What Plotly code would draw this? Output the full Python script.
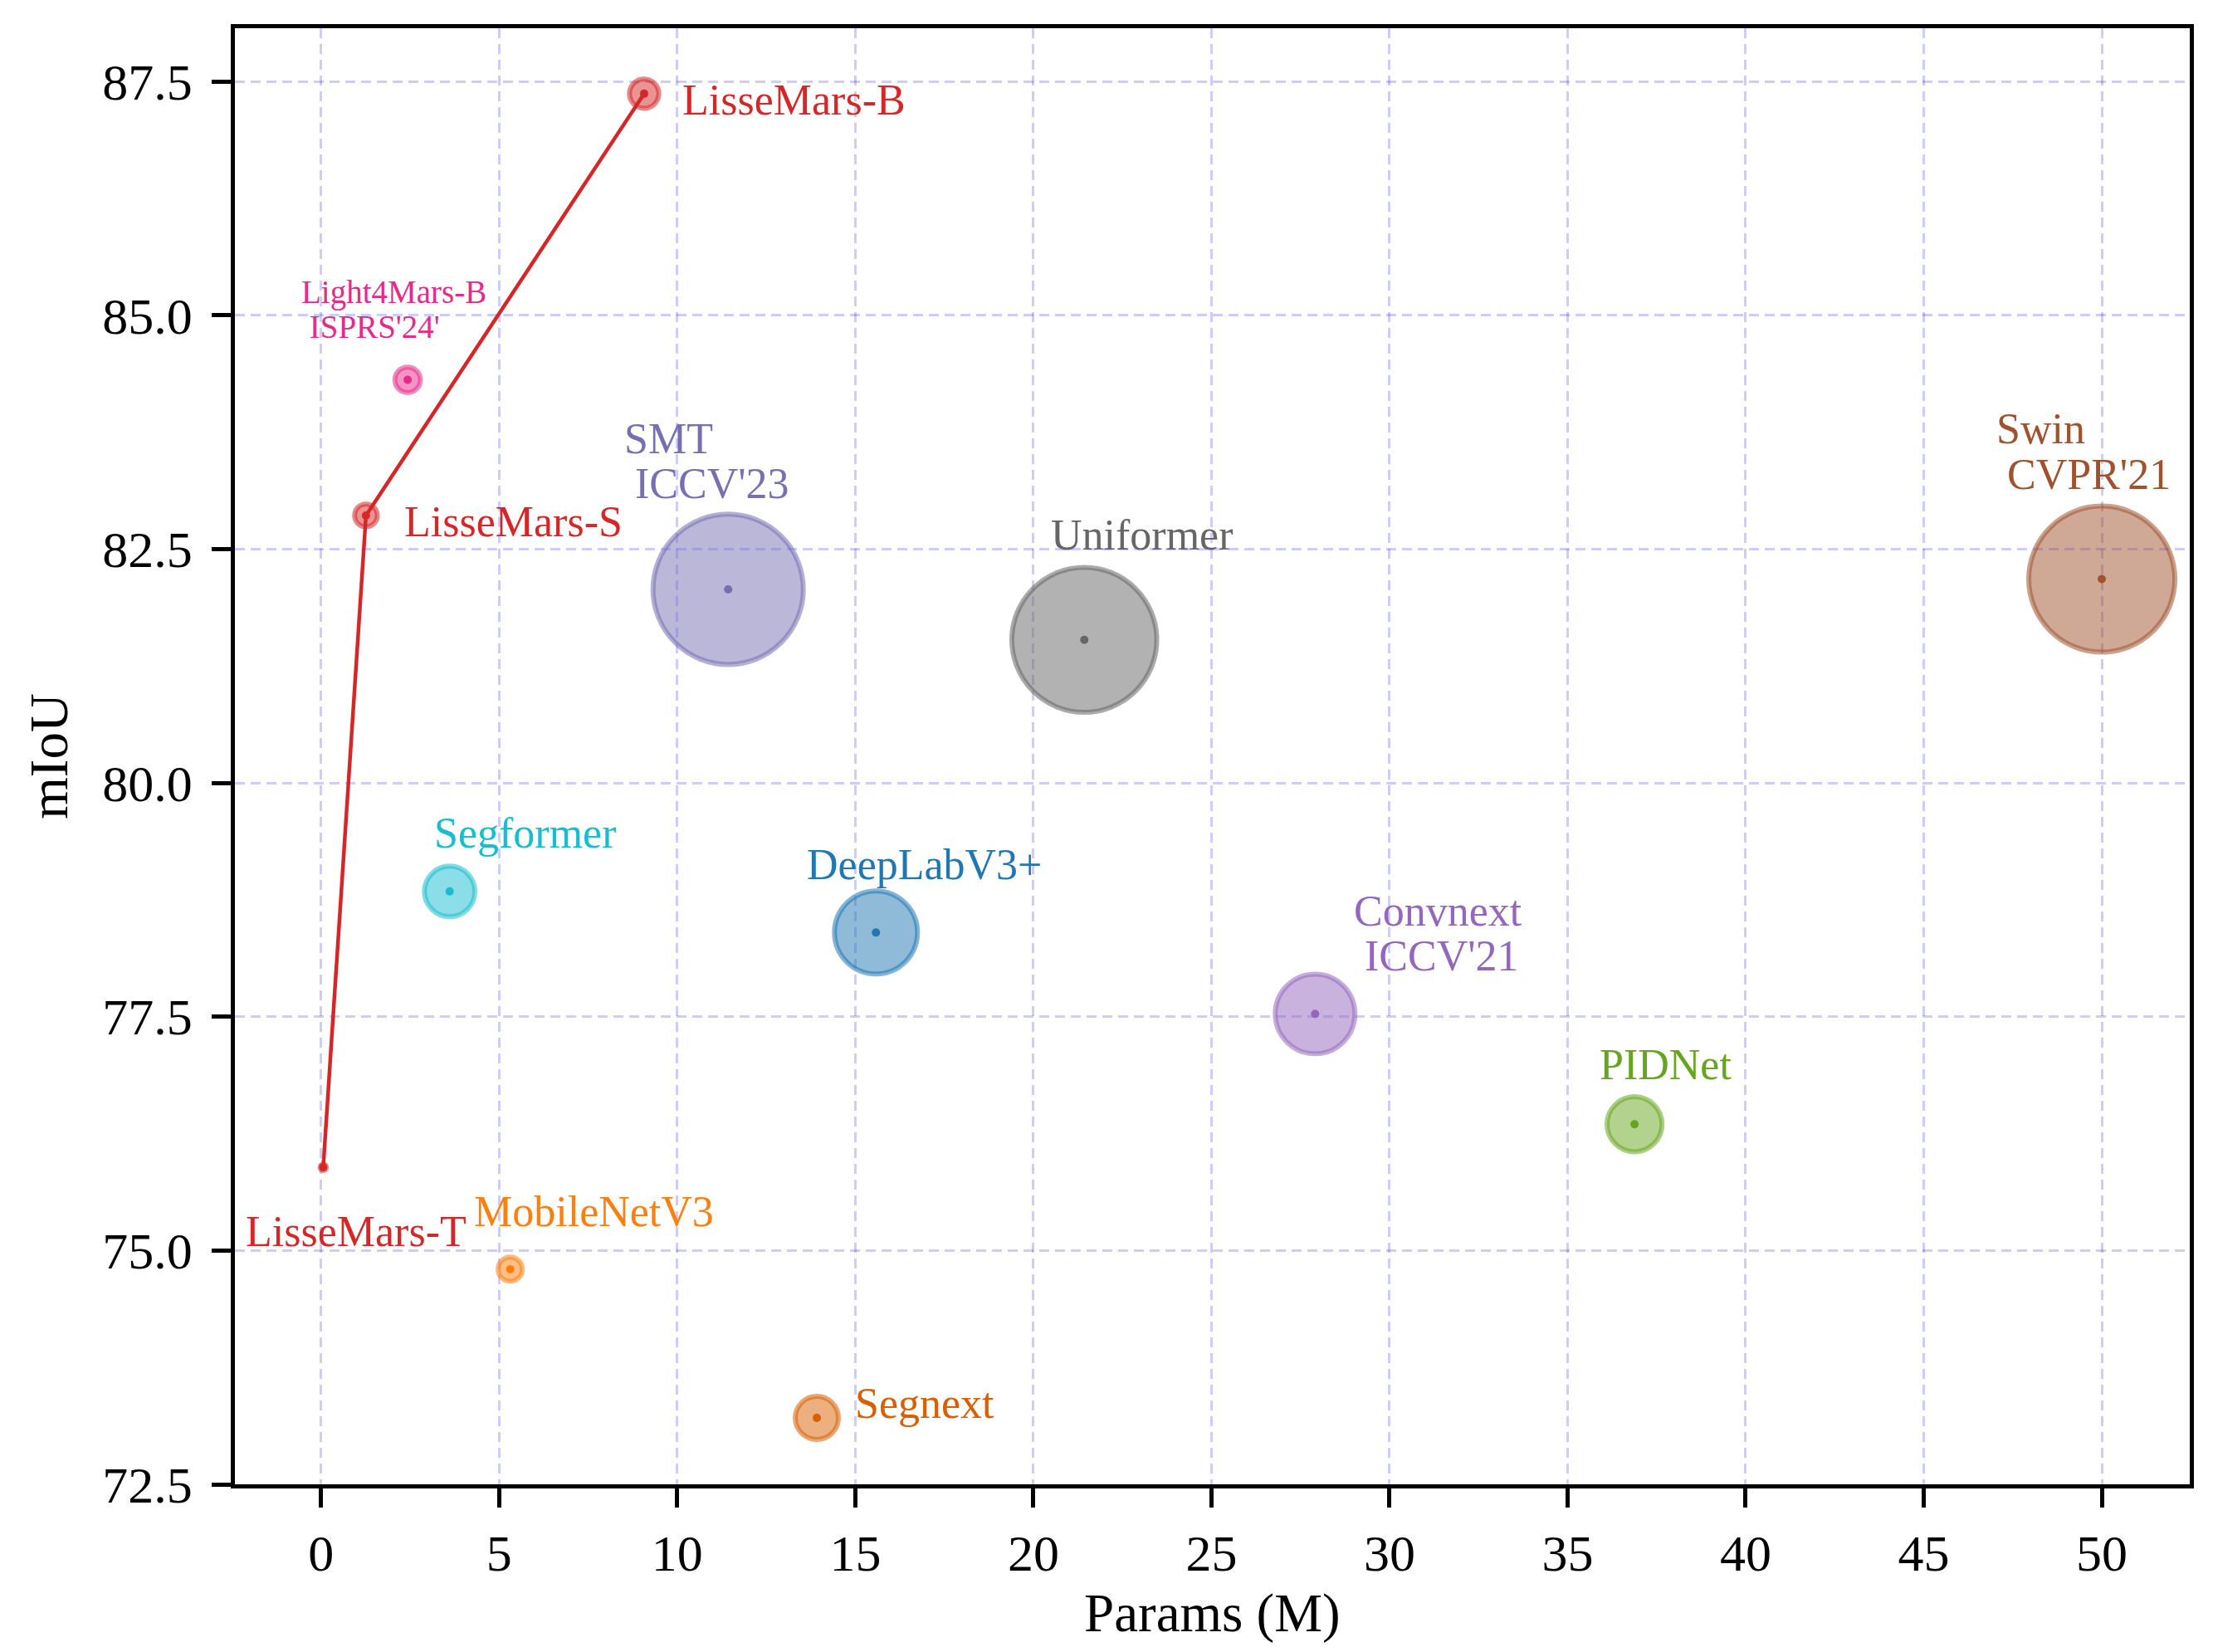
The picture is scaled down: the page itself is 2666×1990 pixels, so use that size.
import plotly.graph_objects as go

# model, params (M), mIoU, bubble value (area-like)
models = [
    "LisseMars-T", "LisseMars-S", "LisseMars-B", "Light4Mars-B", "SMT",
    "Uniformer", "Swin", "Segformer", "DeepLabV3+", "Convnext",
    "PIDNet", "MobileNetV3", "Segnext",
]
params = [0.06, 1.26, 9.07, 2.43, 11.43, 21.43, 50.0, 3.61, 15.58, 27.91, 36.88, 5.31, 13.92]
miou = [75.89, 82.86, 87.37, 84.31, 82.07, 81.53, 82.18, 78.84, 78.40, 77.53, 76.35, 74.80, 73.21]
bubble = [0.6, 7.5, 12.5, 9.5, 328, 305, 310, 37, 100, 92, 44, 8.5, 27]

labels = [
    ["LisseMars-T"], ["LisseMars-S"], ["LisseMars-B"], ["Light4Mars-B", "\u00a0ISPRS'24'"],
    ["SMT", "\u00a0ICCV'23"], ["Uniformer"], ["Swin", "\u00a0CVPR'21"], ["Segformer"],
    ["DeepLabV3+"], ["Convnext", "\u00a0ICCV'21"], ["PIDNet"], ["MobileNetV3"], ["Segnext"],
]

x_ticks = list(range(0, 55, 5))
y_ticks = [72.5, 75.0, 77.5, 80.0, 82.5, 85.0, 87.5]

# styling
colors = [
    "#d62728", "#d62728", "#d62728", "#e7298a", "#7570b3",
    "#666666", "#a0522d", "#17becf", "#1f77b4", "#9467bd",
    "#66a61e", "#ff7f0e", "#d95f02",
]
# left edge / first-line centre of each label, in data units
label_xy = [
    (-2.12, 75.23), (2.33, 82.82), (10.14, 87.33), (-0.56, 85.27), (8.51, 83.71),
    (20.48, 82.68), (47.04, 83.81), (3.17, 79.49), (13.64, 79.15), (28.99, 78.66),
    (35.89, 77.01), (4.29, 75.44), (15.0, 73.39),
]
FONT = "Liberation Serif, Times New Roman, serif"


def rgba(hex_color, a):
    h = hex_color.lstrip("#")
    r, g, b = int(h[0:2], 16), int(h[2:4], 16), int(h[4:6], 16)
    return f"rgba({r},{g},{b},{a})"


fig = go.Figure()

# LisseMars curve
fig.add_trace(go.Scatter(
    x=params[:3], y=miou[:3], mode="lines",
    line=dict(color="#d62728", width=4.5), hoverinfo="skip", showlegend=False,
))

fig.add_trace(go.Scatter(
    x=params, y=miou, mode="markers", text=models, showlegend=False,
    marker=dict(
        size=bubble, sizemode="area", sizeref=0.02, opacity=1,
        color=[rgba(c, 0.5) for c in colors],
        line=dict(color=[rgba(c, 0.55) for c in colors], width=6),
    ),
))

fig.add_trace(go.Scatter(
    x=params, y=miou, mode="markers", hoverinfo="skip", showlegend=False,
    marker=dict(size=10, color=colors, opacity=1, line=dict(width=0)),
))

for name, lines, (lx, ly), c in zip(models, labels, label_xy, colors):
    fs = 39 if name == "Light4Mars-B" else 52
    for k, line in enumerate(lines):
        fig.add_annotation(
            x=lx, y=ly, xref="x", yref="y", text=line, showarrow=False,
            xanchor="left", yanchor="middle", xshift=-2, yshift=-3 - k * 1.05 * fs,
            font=dict(family=FONT, size=fs, color=c),
        )

# x axis title as annotation to control its exact placement
fig.add_annotation(
    x=0.5, y=0, xref="paper", yref="paper", text="Params (M)", showarrow=False,
    xanchor="center", yanchor="middle", yshift=-155,
    font=dict(family=FONT, size=65, color="black"),
)

axis_common = dict(
    showline=True, mirror=True, linecolor="black", linewidth=4.5,
    ticks="outside", ticklen=23, tickwidth=4.5, tickcolor="black",
    showgrid=True, gridcolor="rgba(0,0,255,0.2)", gridwidth=2.5, griddash="12px,7px",
    zeroline=False, automargin=False, tickfont=dict(family=FONT, size=62, color="black"),
)

fig.update_xaxes(
    range=[-2.42, 52.47], tickvals=x_ticks, ticklabelstandoff=2,
    **axis_common,
)
fig.update_yaxes(
    range=[72.5, 88.07], tickvals=y_ticks, tickformat=".1f", ticklabelstandoff=11,
    title=dict(text="mIoU", font=dict(family=FONT, size=65, color="black"), standoff=22),
    **axis_common,
)

fig.update_layout(
    width=2650, height=1974,
    margin=dict(l=275, r=20, t=26, b=194),
    paper_bgcolor="white", plot_bgcolor="white",
    font=dict(family=FONT),
)

fig.write_html("out.html")
